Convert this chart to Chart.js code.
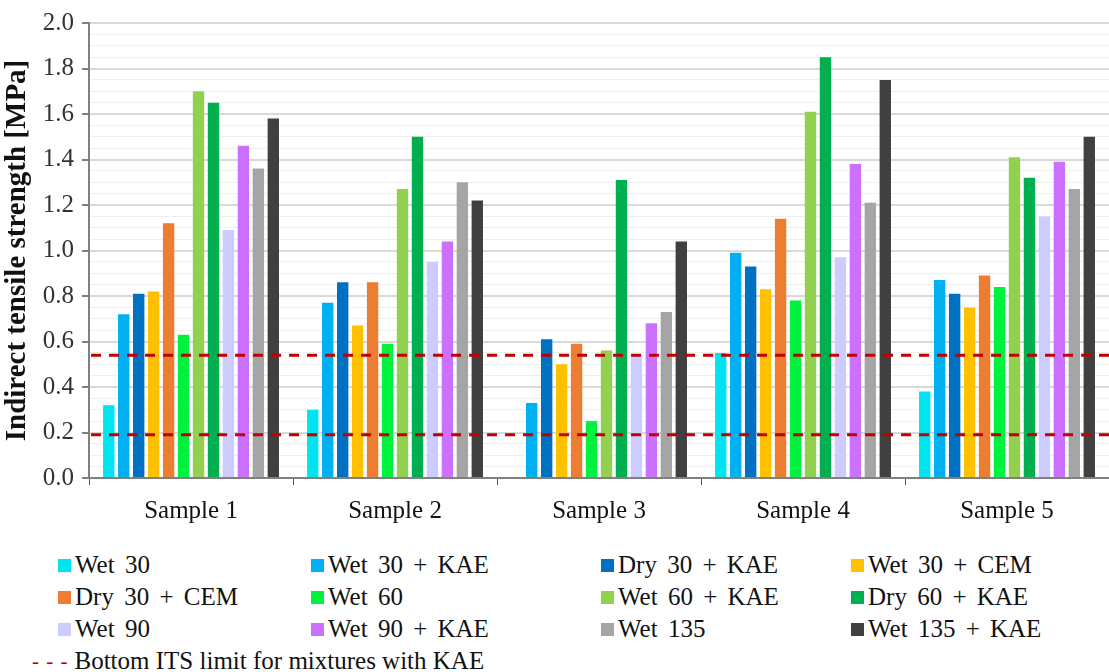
<!DOCTYPE html>
<html>
<head>
<meta charset="utf-8">
<script src="https://cdn.jsdelivr.net/npm/chart.js@4"></script>
<style>
  body { margin: 0; background: #fff; }
  #wrap { position: relative; width: 1109px; height: 537px; }
  #legend {
    display: grid;
    grid-template-columns: 253px 290px 250px 250px;
    grid-auto-rows: 32px;
    padding-left: 58px;
    margin-top: 12px;
    font-family: "Times New Roman", "Liberation Serif", serif;
    font-size: 25px;
    color: #111;
  }
  .item { display: flex; align-items: center; white-space: nowrap; word-spacing: 4px; }
  .box { width: 13px; height: 13px; margin-right: 4px; }
  .limit { grid-column: 1 / span 3; margin-left: -26px; word-spacing: 0; }
  .dash { color: #c00000; font-size: 21px; margin-right: 6px; letter-spacing: 1px; }
</style>
</head>
<body>
<div id="wrap"><canvas id="itsChart"></canvas></div>
<div id="legend"></div>
<script>
// === Data ===
const samples = ["Sample 1", "Sample 2", "Sample 3", "Sample 4", "Sample 5"];

const wet30      = [0.32, 0.30, 0.00, 0.55, 0.38];
const wet30Kae   = [0.72, 0.77, 0.33, 0.99, 0.87];
const dry30Kae   = [0.81, 0.86, 0.61, 0.93, 0.81];
const wet30Cem   = [0.82, 0.67, 0.50, 0.83, 0.75];
const dry30Cem   = [1.12, 0.86, 0.59, 1.14, 0.89];
const wet60      = [0.63, 0.59, 0.25, 0.78, 0.84];
const wet60Kae   = [1.70, 1.27, 0.56, 1.61, 1.41];
const dry60Kae   = [1.65, 1.50, 1.31, 1.85, 1.32];
const wet90      = [1.09, 0.95, 0.54, 0.97, 1.15];
const wet90Kae   = [1.46, 1.04, 0.68, 1.38, 1.39];
const wet135     = [1.36, 1.30, 0.73, 1.21, 1.27];
const wet135Kae  = [1.58, 1.22, 1.04, 1.75, 1.50];

const seriesLabels = [
  "Wet 30", "Wet 30 + KAE", "Dry 30 + KAE", "Wet 30 + CEM",
  "Dry 30 + CEM", "Wet 60", "Wet 60 + KAE", "Dry 60 + KAE",
  "Wet 90", "Wet 90 + KAE", "Wet 135", "Wet 135 + KAE",
];
const seriesValues = [
  wet30, wet30Kae, dry30Kae, wet30Cem, dry30Cem, wet60,
  wet60Kae, dry60Kae, wet90, wet90Kae, wet135, wet135Kae,
];
const seriesColors = [
  "#00e4ef", "#00b0f0", "#0070c0", "#ffc000", "#ed7d31", "#00f23f",
  "#92d050", "#00b050", "#ccccff", "#cc70ff", "#a5a5a5", "#404040",
];

// bottom ITS limits (dashed lines)
const itsLimits = [0.54, 0.19];
const limitLabel = "Bottom ITS limit for mixtures with KAE";

const serif = "'Times New Roman', 'Liberation Serif', serif";

function isMajor(v) {
  const r = v / 0.2;
  return Math.abs(r - Math.round(r)) < 1e-6;
}

// === Plugin: horizontal dashed limit lines ===
const limitLines = {
  id: "limitLines",
  afterDatasetsDraw(chart) {
    const { ctx, chartArea, scales } = chart;
    ctx.save();
    ctx.strokeStyle = "#c00000";
    ctx.lineWidth = 3;
    ctx.setLineDash([10, 8]);
    itsLimits.forEach((v) => {
      const y = scales.y.getPixelForValue(v);
      ctx.beginPath();
      ctx.moveTo(chartArea.left + 2, y);
      ctx.lineTo(chartArea.right, y);
      ctx.stroke();
    });
    ctx.restore();
  },
};

new Chart(document.getElementById("itsChart"), {
  type: "bar",
  data: {
    labels: samples,
    datasets: seriesValues.map((vals, i) => ({
      label: seriesLabels[i],
      data: vals,
      backgroundColor: seriesColors[i],
      borderWidth: 0,
      categoryPercentage: 0.88,
      barPercentage: 0.76,
    })),
  },
  options: {
    responsive: true,
    maintainAspectRatio: false,
    animation: false,
    layout: { padding: { top: 10, right: 0, left: 0, bottom: 0 } },
    plugins: {
      legend: { display: false },
      tooltip: { enabled: false },
    },
    scales: {
      x: {
        grid: {
          offset: true,
          drawOnChartArea: false,
          tickLength: 7,
          tickColor: "#595959",
        },
        border: { color: "#808080", width: 2 },
        ticks: {
          color: "#111",
          font: { family: serif, size: 25 },
          padding: 11,
        },
      },
      y: {
        min: 0,
        max: 2.0,
        grid: {
          color: (ctx) => (isMajor(ctx.tick.value) ? "#d9d9d9" : "#efefef"),
          lineWidth: (ctx) => (isMajor(ctx.tick.value) ? 2 : 1),
          tickColor: (ctx) => (isMajor(ctx.tick.value) ? "#808080" : "rgba(0,0,0,0)"),
          tickLength: 7,
        },
        border: { color: "#808080", width: 2 },
        ticks: {
          stepSize: 0.05,
          autoSkip: false,
          color: "#333",
          font: { family: serif, size: 25 },
          padding: 8,
          callback: (v) => (isMajor(v) ? v.toFixed(1) : ""),
        },
        title: {
          display: true,
          text: "Indirect tensile strength [MPa]",
          color: "#111",
          font: { family: serif, size: 29, weight: "bold" },
          padding: { top: 0, bottom: 0 },
        },
      },
    },
  },
  plugins: [limitLines],
});

// === HTML legend in 4 columns ===
const legend = document.getElementById("legend");
seriesLabels.forEach((label, i) => {
  const item = document.createElement("div");
  item.className = "item";
  item.innerHTML =
    '<span class="box" style="background:' + seriesColors[i] + '"></span>' + label;
  legend.appendChild(item);
});
const lim = document.createElement("div");
lim.className = "item limit";
lim.innerHTML = '<span class="dash">- - -</span>' + limitLabel;
legend.appendChild(lim);
</script>
</body>
</html>
